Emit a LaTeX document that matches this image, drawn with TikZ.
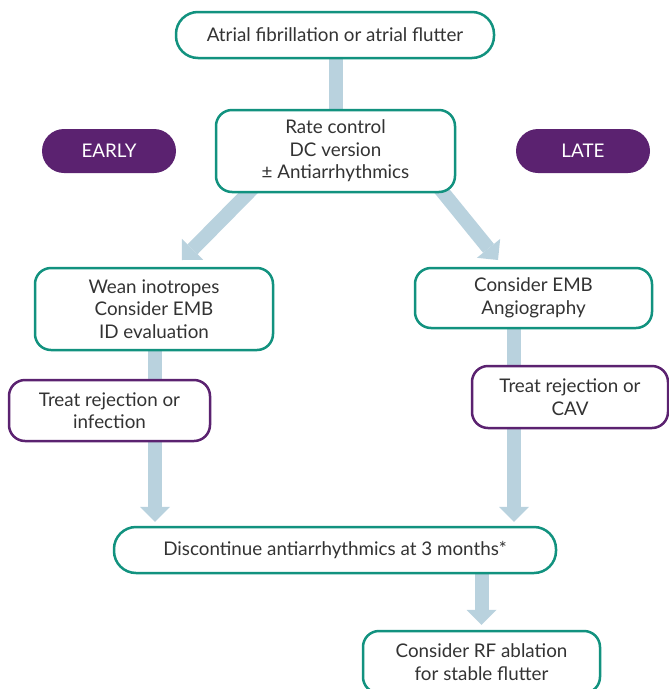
\documentclass[tikz,border=0pt]{standalone}
\usepackage{fontspec}
\setmainfont{Lato}
\usetikzlibrary{arrows.meta,backgrounds}
\definecolor{tealc}{HTML}{12927F}
\definecolor{purp}{HTML}{5B2270}
\definecolor{arrowc}{HTML}{B9D2DE}
\definecolor{txt}{HTML}{333333}
\newcommand{\fsz}{\fontsize{18.8pt}{22.5pt}\selectfont}
\tikzset{
  flowbox/.style={draw=tealc, line width=2.5pt, fill=white, rounded corners=16pt,
    align=center, text=txt, font=\fsz, inner sep=0pt},
  pillbox/.style={flowbox, rounded corners=22pt},
  actbox/.style={flowbox, draw=purp},
  phase/.style={fill=purp, draw=none, rounded corners=22pt, text=white, font=\fsz,
    minimum width=134pt, minimum height=44pt, inner sep=0pt},
  conn/.style={draw=arrowc, line width=14pt},
  connarrow/.style={conn, -{Triangle[width=30pt,length=15pt,line width=0pt]}, shorten >=5pt}
}
\begin{document}
\begin{tikzpicture}[x=1pt,y=-1pt]
\useasboundingbox (0,0) rectangle (669,689);
\clip (0,0) rectangle (669,689);
\node[pillbox, minimum width=318pt, minimum height=46pt] (top) at (335,35) {Atrial fibrillation or atrial flutter};
\node[flowbox, minimum width=239pt, minimum height=82pt] (rate) at (335.5,151) {Rate control\\DC version\\± Antiarrhythmics};
\node[phase] (early) at (109,151) {EARLY};
\node[phase] (late) at (583,151) {LATE};
\node[flowbox, minimum width=238pt, minimum height=82pt] (wean) at (154,309) {Wean inotropes\\Consider EMB\\ID evaluation};
\node[flowbox, minimum width=237pt, minimum height=60pt] (emb) at (533.5,298) {Consider EMB\\Angiography};
\node[actbox, minimum width=201pt, minimum height=61pt] (treat1) at (109.5,410.5) {Treat rejection or\\infection};
\node[actbox, minimum width=196pt, minimum height=62pt] (treat2) at (570,397) {Treat rejection or\\CAV};
\node[pillbox, minimum width=442pt, minimum height=46pt] (disc) at (335,550) {Discontinue antiarrhythmics at 3 months*};
\node[flowbox, minimum width=237pt, minimum height=62pt] (rf) at (481.5,662) {Consider RF ablation\\for stable flutter};
\coordinate (lx) at (155,0);
\coordinate (rx) at (514,0);
\coordinate (ldiag) at (256,185);
\coordinate (rdiag) at (437,185);
\begin{scope}[on background layer]
\draw[conn] (top.south -| rate.north) -- (rate.north);
\draw[connarrow, shorten >=0pt] (ldiag) -- (182,260);
\draw[connarrow, shorten >=0pt] (rdiag) -- (498,260);
\draw[conn] (wean.south -| lx) -- (treat1.north -| lx);
\draw[connarrow, shorten >=4pt] (treat1.south -| lx) -- (disc.north -| lx);
\draw[conn] (emb.south -| rx) -- (treat2.north -| rx);
\draw[connarrow, shorten >=4pt] (treat2.south -| rx) -- (disc.north -| rx);
\draw[connarrow] (disc.south -| rf.north) -- (rf.north);
\end{scope}
\end{tikzpicture}
\end{document}
